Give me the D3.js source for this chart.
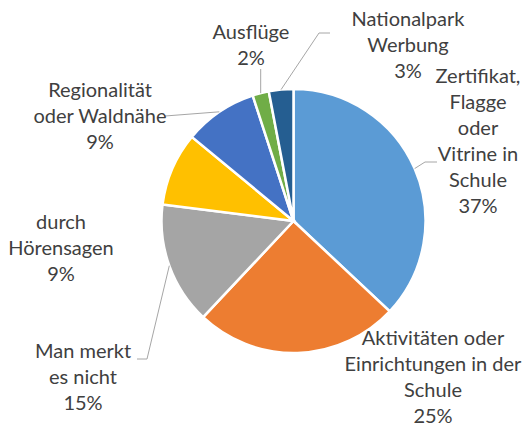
<!DOCTYPE html>
<html>
<head>
<meta charset="utf-8">
<script src="https://cdn.jsdelivr.net/npm/d3@7"></script>
<style>
  body { margin: 0; background: #fff; }
  text { font-family: Lato, "Open Sans", sans-serif; font-size: 20px; fill: #404040; }
</style>
</head>
<body>
<svg width="524" height="423"></svg>
<script>
// Data
var categories = ["Zertifikat, Flagge oder Vitrine in Schule", "Aktivitäten oder Einrichtungen in der Schule",
                  "Man merkt es nicht", "durch Hörensagen", "Regionalität oder Waldnähe", "Ausflüge", "Nationalpark Werbung"];
var values = [37, 25, 15, 9, 9, 2, 3];
var labelLines = [
    ["Zertifikat,", "Flagge", "oder", "Vitrine in", "Schule"],
    ["Aktivitäten oder", "Einrichtungen in der", "Schule"],
    ["Man merkt", "es nicht"],
    ["durch", "Hörensagen"],
    ["Regionalität", "oder Waldnähe"],
    ["Ausflüge"],
    ["Nationalpark", "Werbung"]
];
var colors = ["#5B9BD5", "#ED7D31", "#A5A5A5", "#FFC000", "#4472C4", "#70AD47", "#255E91"];

// Label layout (block centre x, first baseline y, leader bend points)
var labelLayout = [
    { x: 478, y: 83, leader: [[425, 162], [437, 162]] },
    { x: 433, y: 345, leader: null },
    { x: 83, y: 358, leader: [[147, 359], [137, 359]] },
    { x: 61, y: 229, leader: null },
    { x: 100, y: 97, leader: [[165, 116]] },
    { x: 251, y: 39, leader: [[260.7, 69]] },
    { x: 408, y: 26, leader: [[319, 33], [330, 33]] }
];

var svg = d3.select("svg");
var cx = 293.5, cy = 221, radius = 132;
var lineH = 26;

var pie = d3.pie().sort(null).value(d => d);
var arcs = pie(values);
var arc = d3.arc().innerRadius(0).outerRadius(radius);

var g = svg.append("g").attr("transform", `translate(${cx},${cy})`);

g.selectAll("path.slice")
    .data(arcs)
    .enter().append("path")
    .attr("class", "slice")
    .attr("d", arc)
    .attr("fill", (d, i) => colors[i])
    .attr("stroke", "#fff")
    .attr("stroke-width", 2.5);

// Leader lines
arcs.forEach(function(d, i) {
    var lay = labelLayout[i];
    if (!lay.leader) return;
    var mid = (d.startAngle + d.endAngle) / 2;
    var pts = [[cx + radius * Math.sin(mid), cy - radius * Math.cos(mid)]].concat(lay.leader);
    svg.append("path")
        .attr("d", d3.line()(pts))
        .attr("fill", "none")
        .attr("stroke", "#A6A6A6")
        .attr("stroke-width", 1);
});

// Labels
arcs.forEach(function(d, i) {
    var lay = labelLayout[i];
    var lines = labelLines[i].concat([d3.format(".0f")(values[i]) + "%"]);
    var t = svg.append("text").attr("text-anchor", "middle");
    lines.forEach(function(l, j) {
        t.append("tspan").attr("x", lay.x).attr("y", lay.y + j * lineH).text(l);
    });
});
</script>
</body>
</html>
